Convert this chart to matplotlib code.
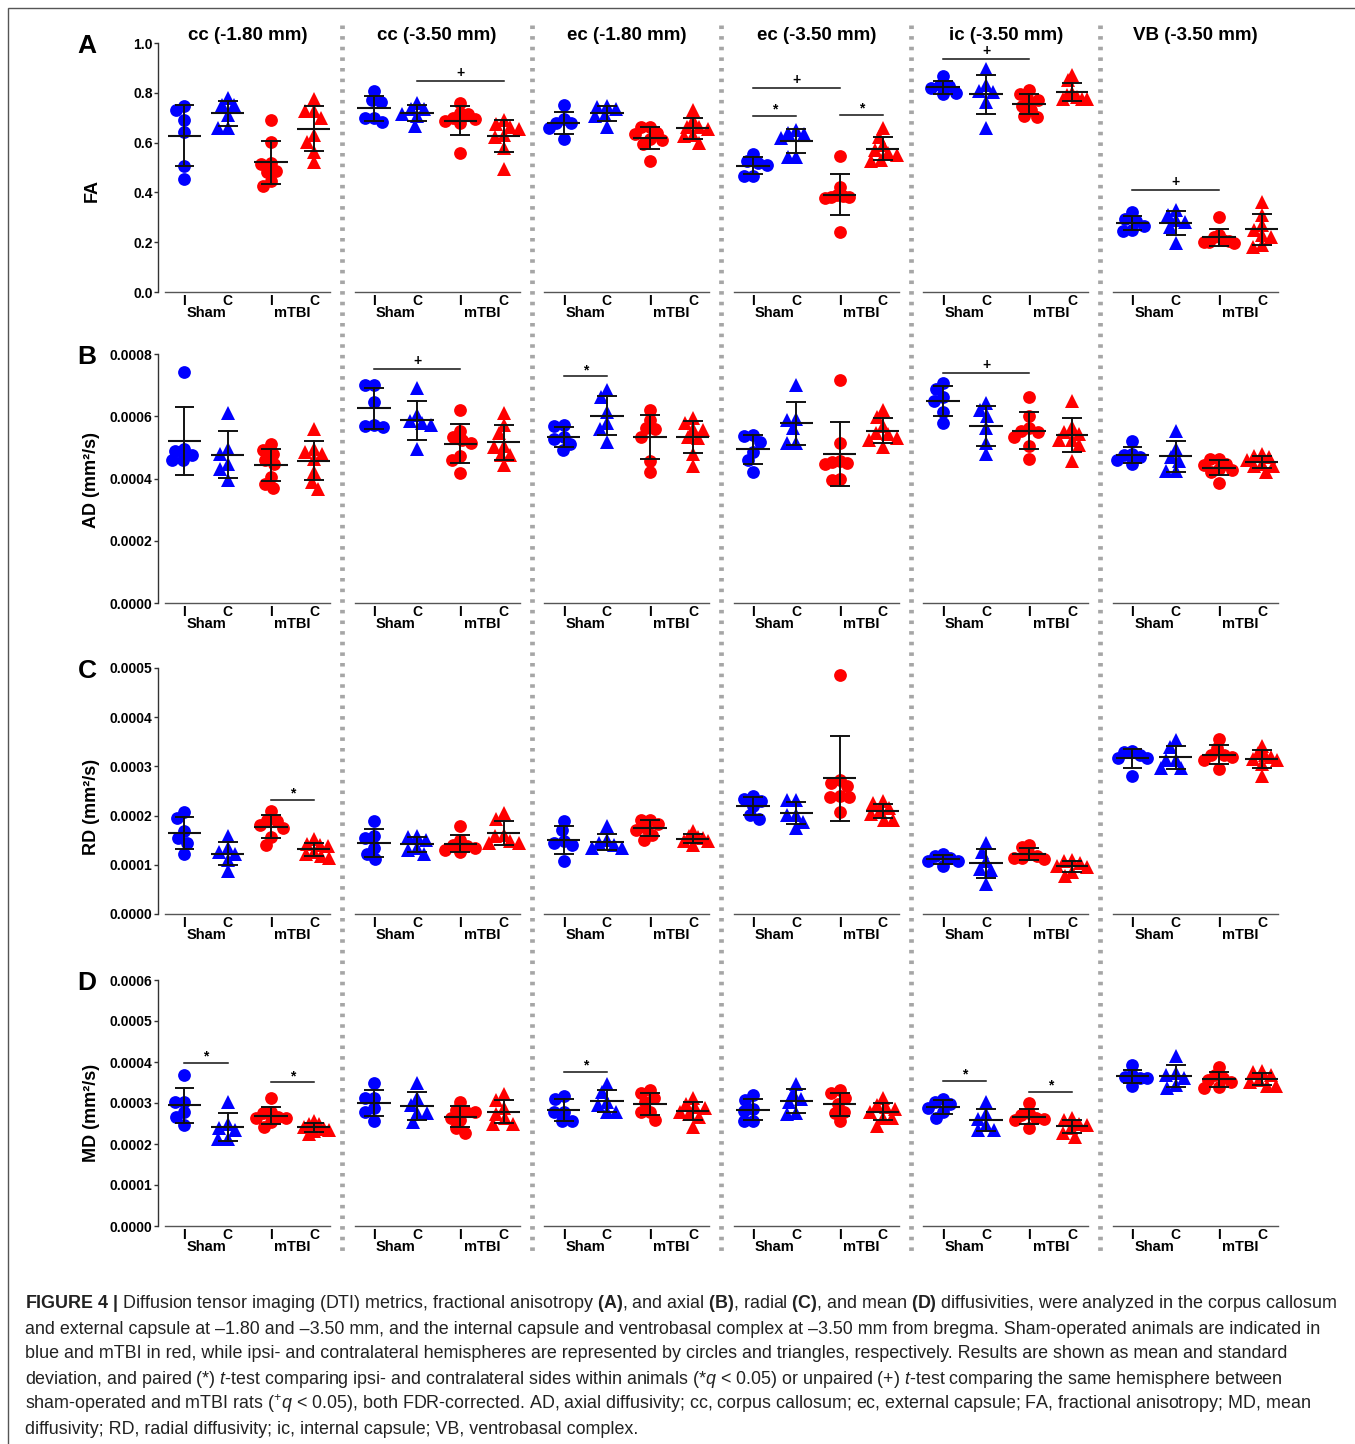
import numpy as np
import matplotlib
matplotlib.use('Agg')
import matplotlib.pyplot as plt
from matplotlib.lines import Line2D
from matplotlib.patches import Rectangle
from matplotlib.ticker import FormatStrFormatter

plt.rcParams['font.family'] = ['Liberation Sans', 'DejaVu Sans']
plt.rcParams['mathtext.fontset'] = 'custom'
plt.rcParams['mathtext.rm'] = 'Liberation Sans'
plt.rcParams['mathtext.it'] = 'Liberation Sans:italic'
plt.rcParams['mathtext.bf'] = 'Liberation Sans:bold'

# ---------------- data ----------------
REGIONS = ['cc (-1.80 mm)', 'cc (-3.50 mm)', 'ec (-1.80 mm)',
           'ec (-3.50 mm)', 'ic (-3.50 mm)', 'VB (-3.50 mm)']
SIDES = ['I', 'C', 'I', 'C']
CONDITIONS = ['Sham', 'mTBI']
ROW_LETTERS = ['A', 'B', 'C', 'D']
METRICS = ['FA', 'AD (mm²/s)', 'RD (mm²/s)', 'MD (mm²/s)']
UNITS = [1.0, 1e-4, 1e-4, 1e-4]
YMAX = [1.0, 8.0, 5.0, 6.0]        # in the row's unit
YSTEP = [0.2, 2.0, 1.0, 1.0]
YFMT = ['%.1f', '%.4f', '%.4f', '%.4f']

# each: [Sham I, Sham C, mTBI I, mTBI C]
FA_cc180 = [[0.748, 0.729, 0.689, 0.644, 0.506, 0.454], [0.78, 0.75, 0.75, 0.71, 0.66, 0.66],
            [0.689, 0.601, 0.517, 0.514, 0.486, 0.482, 0.446, 0.427], [0.776, 0.725, 0.725, 0.70, 0.631, 0.604, 0.564, 0.521]]
FA_cc350 = [[0.809, 0.772, 0.765, 0.70, 0.697, 0.682], [0.761, 0.734, 0.734, 0.714, 0.705, 0.668],
            [0.758, 0.72, 0.715, 0.70, 0.695, 0.685, 0.68, 0.557], [0.691, 0.674, 0.664, 0.654, 0.631, 0.624, 0.577, 0.493]]
FA_ec180 = [[0.752, 0.695, 0.68, 0.678, 0.658, 0.615], [0.748, 0.742, 0.734, 0.711, 0.705, 0.662],
            [0.664, 0.662, 0.640, 0.635, 0.613, 0.61, 0.593, 0.526], [0.732, 0.691, 0.664, 0.662, 0.654, 0.630, 0.625, 0.600]]
FA_ec350 = [[0.554, 0.525, 0.52, 0.51, 0.466, 0.466], [0.651, 0.64, 0.635, 0.617, 0.544, 0.544],
            [0.546, 0.423, 0.39, 0.385, 0.382, 0.38, 0.378, 0.242], [0.658, 0.624, 0.591, 0.57, 0.557, 0.55, 0.53, 0.528]]
FA_ic350 = [[0.866, 0.83, 0.826, 0.818, 0.798, 0.795], [0.895, 0.832, 0.806, 0.805, 0.765, 0.658],
            [0.81, 0.796, 0.772, 0.77, 0.745, 0.732, 0.705, 0.703], [0.872, 0.852, 0.80, 0.79, 0.785, 0.776, 0.776, 0.775]]
FA_vb350 = [[0.32, 0.295, 0.285, 0.265, 0.25, 0.245], [0.33, 0.31, 0.29, 0.28, 0.26, 0.195],
            [0.30, 0.23, 0.22, 0.21, 0.205, 0.20, 0.20, 0.195], [0.36, 0.31, 0.27, 0.25, 0.23, 0.22, 0.19, 0.18]]

AD_cc180 = [[7.42, 4.95, 4.88, 4.75, 4.61, 4.59], [6.11, 4.96, 4.80, 4.48, 4.32, 3.95],
            [5.10, 4.93, 4.80, 4.61, 4.48, 4.05, 3.82, 3.68], [5.58, 4.95, 4.85, 4.78, 4.62, 4.20, 3.90, 3.65]]
AD_cc350 = [[7.02, 7.02, 6.47, 5.72, 5.68, 5.66], [6.90, 6.04, 5.85, 5.77, 5.72, 4.96],
            [6.20, 5.53, 5.34, 5.23, 5.15, 4.72, 4.61, 4.18], [6.11, 5.72, 5.45, 5.04, 5.02, 4.75, 4.75, 4.43]]
AD_ec180 = [[5.72, 5.68, 5.32, 5.26, 5.10, 4.91], [6.84, 6.61, 6.14, 5.79, 5.58, 5.18],
            [6.20, 5.88, 5.61, 5.58, 5.34, 4.57, 4.21], [5.93, 5.77, 5.60, 5.55, 5.34, 5.29, 4.80, 4.40]]
AD_ec350 = [[5.40, 5.36, 5.18, 4.86, 4.61, 4.21], [7.00, 5.90, 5.88, 5.61, 5.13, 5.13],
            [7.16, 5.15, 4.57, 4.54, 4.50, 4.45, 4.00, 3.95], [6.20, 5.96, 5.68, 5.47, 5.43, 5.30, 5.25, 5.00]]
AD_ic350 = [[7.08, 6.86, 6.61, 6.50, 6.14, 5.77], [6.43, 6.20, 6.00, 5.61, 5.13, 4.80],
            [6.63, 6.00, 5.61, 5.53, 5.50, 5.32, 5.04, 4.64], [6.50, 5.64, 5.50, 5.43, 5.25, 5.25, 5.07, 4.57]]
AD_vb350 = [[5.21, 4.80, 4.75, 4.68, 4.59, 4.46], [5.53, 4.96, 4.70, 4.57, 4.25, 4.25],
            [4.64, 4.62, 4.48, 4.43, 4.32, 4.27, 4.20, 3.86], [4.80, 4.72, 4.68, 4.59, 4.48, 4.40, 4.40, 4.21]]

RD_cc180 = [[2.07, 1.95, 1.69, 1.54, 1.44, 1.21], [1.58, 1.34, 1.26, 1.22, 1.10, 0.87],
            [2.10, 1.92, 1.90, 1.80, 1.75, 1.56, 1.40], [1.53, 1.42, 1.40, 1.38, 1.27, 1.21, 1.17, 1.14]]
RD_cc350 = [[1.90, 1.58, 1.54, 1.34, 1.22, 1.12], [1.58, 1.56, 1.51, 1.34, 1.31, 1.21],
            [1.78, 1.51, 1.41, 1.38, 1.34, 1.31, 1.27], [2.05, 1.94, 1.61, 1.58, 1.48, 1.44, 1.44]]
RD_ec180 = [[1.90, 1.71, 1.48, 1.44, 1.41, 1.08], [1.78, 1.51, 1.44, 1.41, 1.34, 1.34],
            [1.92, 1.92, 1.82, 1.75, 1.71, 1.61, 1.51], [1.68, 1.58, 1.56, 1.54, 1.49, 1.48, 1.40]]
RD_ec350 = [[2.39, 2.34, 2.29, 2.19, 2.01, 1.94], [2.32, 2.32, 2.02, 2.02, 1.88, 1.75],
            [4.85, 2.73, 2.66, 2.60, 2.40, 2.37, 2.37, 2.07], [2.29, 2.26, 2.15, 2.10, 2.03, 1.92, 1.92]]
RD_ic350 = [[1.22, 1.17, 1.14, 1.08, 1.07, 0.97], [1.44, 1.27, 1.07, 0.92, 0.90, 0.61],
            [1.41, 1.36, 1.21, 1.17, 1.14, 1.14, 1.12], [1.10, 1.08, 1.03, 0.98, 0.95, 0.85, 0.78]]
RD_vb350 = [[3.32, 3.29, 3.24, 3.17, 3.17, 2.80], [3.54, 3.39, 3.12, 3.12, 2.97, 2.97],
            [3.56, 3.37, 3.24, 3.23, 3.20, 3.14, 2.95], [3.41, 3.27, 3.24, 3.20, 3.15, 3.12, 3.05, 2.80]]

MD_cc180 = [[3.68, 3.03, 3.02, 2.79, 2.67, 2.46], [3.03, 2.48, 2.38, 2.34, 2.12, 2.12],
            [3.11, 2.79, 2.75, 2.67, 2.64, 2.63, 2.54, 2.42], [2.56, 2.50, 2.48, 2.42, 2.37, 2.34, 2.32, 2.25]]
MD_cc350 = [[3.50, 3.13, 3.11, 2.89, 2.79, 2.56], [3.50, 3.13, 2.95, 2.75, 2.75, 2.54],
            [3.03, 2.83, 2.80, 2.79, 2.63, 2.59, 2.38, 2.26], [3.21, 3.07, 2.87, 2.72, 2.63, 2.50, 2.50]]
MD_ec180 = [[3.18, 3.10, 2.79, 2.79, 2.56, 2.56], [3.46, 3.26, 3.03, 2.95, 2.79, 2.77],
            [3.32, 3.24, 3.11, 3.03, 2.79, 2.79, 2.59], [3.13, 2.97, 2.90, 2.87, 2.79, 2.72, 2.67, 2.42]]
MD_ec350 = [[3.20, 3.07, 2.85, 2.80, 2.56, 2.56], [3.46, 3.24, 3.10, 3.03, 2.75, 2.72],
            [3.32, 3.24, 3.13, 2.97, 2.79, 2.75, 2.56], [3.13, 2.95, 2.90, 2.85, 2.79, 2.63, 2.63, 2.45]]
MD_ic350 = [[3.10, 3.02, 2.97, 2.89, 2.79, 2.64], [3.03, 2.72, 2.61, 2.46, 2.34, 2.34],
            [2.99, 2.75, 2.71, 2.64, 2.62, 2.59, 2.38], [2.64, 2.59, 2.48, 2.46, 2.38, 2.26, 2.18]]
MD_vb350 = [[3.93, 3.68, 3.64, 3.62, 3.60, 3.42], [4.15, 3.72, 3.68, 3.60, 3.44, 3.37],
            [3.89, 3.68, 3.60, 3.56, 3.52, 3.40, 3.37], [3.78, 3.76, 3.68, 3.56, 3.52, 3.42, 3.42]]

FA_DATA = [FA_cc180, FA_cc350, FA_ec180, FA_ec350, FA_ic350, FA_vb350]
AD_DATA = [AD_cc180, AD_cc350, AD_ec180, AD_ec350, AD_ic350, AD_vb350]
RD_DATA = [RD_cc180, RD_cc350, RD_ec180, RD_ec350, RD_ic350, RD_vb350]
MD_DATA = [MD_cc180, MD_cc350, MD_ec180, MD_ec350, MD_ic350, MD_vb350]
ALL_DATA = [FA_DATA, AD_DATA, RD_DATA, MD_DATA]

# significance: (row, column, group1, group2, bar level in row unit, symbol)
SIG_ROW = [0, 0, 0, 0, 0, 0, 1, 1, 1, 2, 3, 3, 3, 3, 3]
SIG_COL = [1, 3, 3, 3, 4, 5, 1, 2, 4, 0, 0, 0, 2, 4, 4]
SIG_G1 = [1, 0, 0, 2, 0, 0, 0, 0, 0, 2, 0, 2, 0, 0, 2]
SIG_G2 = [3, 2, 1, 3, 2, 2, 2, 1, 2, 3, 1, 3, 1, 1, 3]
SIG_Y = [0.846, 0.819, 0.707, 0.711, 0.936, 0.41, 7.52, 7.29, 7.39, 2.32, 3.98, 3.51, 3.76, 3.54, 3.27]
SIG_SYM = ['+', '+', '*', '*', '+', '+', '+', '*', '+', '*', '*', '*', '*', '*', '*']

CAPTION = [
    r"$\mathbf{FIGURE\ 4\ |}$ Diffusion tensor imaging (DTI) metrics, fractional anisotropy $\mathbf{(A)}$, and axial $\mathbf{(B)}$, radial $\mathbf{(C)}$, and mean $\mathbf{(D)}$ diffusivities, were analyzed in the corpus callosum",
    "and external capsule at –1.80 and –3.50 mm, and the internal capsule and ventrobasal complex at –3.50 mm from bregma. Sham-operated animals are indicated in",
    "blue and mTBI in red, while ipsi- and contralateral hemispheres are represented by circles and triangles, respectively. Results are shown as mean and standard",
    r"deviation, and paired (*) $t$-test comparing ipsi- and contralateral sides within animals (*$q$ < 0.05) or unpaired (+) $t$-test comparing the same hemisphere between",
    r"sham-operated and mTBI rats ($^{+}q$ < 0.05), both FDR-corrected. AD, axial diffusivity; cc, corpus callosum; ec, external capsule; FA, fractional anisotropy; MD, mean",
    "diffusivity; RD, radial diffusivity; ic, internal capsule; VB, ventrobasal complex.",
]

# ---------------- layout ----------------
W, H = 1355, 1444
fig = plt.figure(figsize=(W / 100, H / 100), dpi=100)


def fx(px):
    return px / W


def fy(py):
    return 1 - py / H


COL_LEFT0, COL_PITCH, COL_W = 165.0, 189.6, 165.0
ROW_TOP = [43, 354, 668, 980]
ROW_H = [249, 249, 246, 246]
XLIM = (-0.45, 3.37)
BLUE, RED = '#0000FF', '#FF0000'
MARKER_D = 9.5      # collision diameter, px
MAX_SPREAD = 15.0   # max horizontal offset, px


def swarm(vals_px, d, max_off):
    order = np.argsort(-vals_px, kind='stable')
    placed = []
    xs = np.zeros(len(vals_px))
    for i in order:
        y = vals_px[i]
        cands = [0.0]
        for (px, py) in placed:
            dy = y - py
            if abs(dy) < d:
                dx = np.sqrt(d * d - dy * dy)
                cands += [px + dx, px - dx]
        cands = sorted(cands, key=lambda c: (abs(c), c))
        for c in cands:
            if all((c - px) ** 2 + (y - py) ** 2 >= d * d - 1e-6 for px, py in placed):
                xs[i] = c
                placed.append((c, y))
                break
    m = np.abs(xs).max() if len(xs) else 0
    if m > max_off:
        xs = xs * max_off / m
    return xs


axes = {}
for r in range(4):
    unit = UNITS[r]
    ymax = YMAX[r] * unit
    for c in range(6):
        left = COL_LEFT0 + COL_PITCH * c
        ax = fig.add_axes([fx(left), fy(ROW_TOP[r] + ROW_H[r]), COL_W / W, ROW_H[r] / H])
        axes[(r, c)] = ax
        ax.set_xlim(*XLIM)
        ax.set_ylim(0, ymax)
        ax.patch.set_alpha(0)
        for s in ['top', 'right']:
            ax.spines[s].set_visible(False)
        ax.spines['bottom'].set_color('#555555')
        ax.spines['bottom'].set_linewidth(1.0)
        ypx = ROW_H[r] / ymax
        xpx = COL_W / (XLIM[1] - XLIM[0])
        groups = ALL_DATA[r][c]
        for gi, vals in enumerate(groups):
            v = np.array(vals) * unit
            color = BLUE if gi < 2 else RED
            marker = 'o' if gi % 2 == 0 else '^'
            xs = gi + swarm(v * ypx, MARKER_D, MAX_SPREAD) / xpx
            ax.plot(xs, v, ls='none', marker=marker, ms=9.2 if marker == 'o' else 9.8,
                    color=color, mec=color, mew=0, zorder=2, clip_on=False)
            m = v.mean()
            sd = v.std(ddof=1)
            ax.plot([gi - 0.39, gi + 0.39], [m, m], color='#111111', lw=1.5, zorder=3,
                    solid_capstyle='butt')
            ax.plot([gi, gi], [m - sd, m + sd], color='#111111', lw=1.4, zorder=3)
            for yy in (m - sd, m + sd):
                ax.plot([gi - 0.23, gi + 0.23], [yy, yy], color='#111111', lw=1.4, zorder=3,
                        solid_capstyle='butt')
        ax.set_xticks(range(4))
        ax.set_xticklabels(SIDES, fontweight='bold', fontsize=10)
        ax.tick_params(axis='x', length=0, pad=1.5)
        for k, cond in enumerate(CONDITIONS):
            ax.annotate(cond, xy=(2 * k + 0.5, 0), xycoords=('data', 'axes fraction'),
                        xytext=(0, -21), textcoords='offset pixels', ha='center', va='center',
                        fontsize=10.5, fontweight='bold')
        if c == 0:
            ax.spines['left'].set_position(('outward', 5))
            ax.spines['left'].set_color('#333333')
            ax.spines['left'].set_linewidth(1.0)
            ticks = np.arange(0, YMAX[r] + YSTEP[r] / 2, YSTEP[r]) * unit
            ax.set_yticks(ticks)
            ax.yaxis.set_major_formatter(FormatStrFormatter(YFMT[r]))
            ax.tick_params(axis='y', length=3, width=1.0, pad=1, labelsize=10, color='#333333')
            for lab in ax.get_yticklabels():
                lab.set_fontweight('bold')
        else:
            ax.spines['left'].set_visible(False)
            ax.set_yticks([])

# significance bars
for r, c, g1, g2, y, sym in zip(SIG_ROW, SIG_COL, SIG_G1, SIG_G2, SIG_Y, SIG_SYM):
    ax = axes[(r, c)]
    yv = y * UNITS[r]
    ax.plot([g1, g2], [yv, yv], color='#111111', lw=1.1, zorder=3)
    ax.annotate(sym, xy=((g1 + g2) / 2, yv), xytext=(0, 1 if sym == '+' else -1),
                textcoords='offset pixels', ha='center', va='bottom',
                fontsize=10, fontweight='bold')

# column titles
for c, title in enumerate(REGIONS):
    cx = COL_LEFT0 + COL_PITCH * c + COL_W / 2
    fig.text(fx(cx), fy(35), title, ha='center', va='center', fontsize=13.5, fontweight='bold')

# row letters and y labels
LABEL_Y = [190, 480, 807, 1113]
for r in range(4):
    fig.text(fx(87), fy(ROW_TOP[r] + 3), ROW_LETTERS[r], ha='center', va='center',
             fontsize=19, fontweight='bold')
    fig.text(fx(92), fy(LABEL_Y[r]), METRICS[r], ha='center', va='center', rotation=90,
             fontsize=13, fontweight='bold')

# dotted separators
for k in range(5):
    sx = COL_LEFT0 + COL_W + (COL_PITCH - COL_W) / 2 + COL_PITCH * k - 0.3
    fig.add_artist(Line2D([fx(sx), fx(sx)], [fy(25), fy(1257)], transform=fig.transFigure,
                          color='#a6a6a6', lw=3.4, linestyle=(0, (0.75, 1.5)),
                          dash_capstyle='butt'))

# border
fig.add_artist(Rectangle((fx(8), fy(1460)), fx(1400) - fx(8), fy(8) - fy(1460),
                         transform=fig.transFigure, fill=False, edgecolor='#555555', lw=1.0))

# caption
renderer = fig.canvas.get_renderer()
t0 = fig.text(fx(25), fy(1304), CAPTION[0], ha='left', va='center', fontsize=11, color='#222222')
w0 = t0.get_window_extent(renderer).width
fs = 11 * 1315.0 / w0
t0.set_fontsize(fs)
for i, line in enumerate(CAPTION[1:], start=1):
    fig.text(fx(25), fy(1304 + 25 * i), line, ha='left', va='center', fontsize=fs, color='#222222')

fig.savefig('out.png', dpi=100)
